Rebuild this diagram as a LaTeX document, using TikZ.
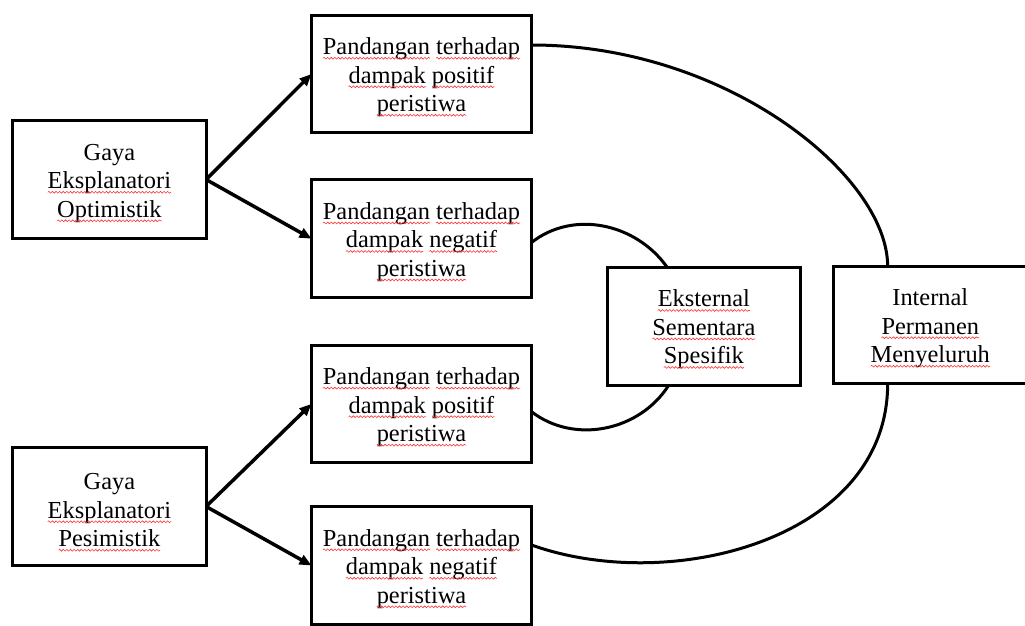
\documentclass[tikz,border=0pt]{standalone}
\usepackage{fontspec}
\setmainfont{Liberation Serif}
\usetikzlibrary{arrows.meta,decorations.pathmorphing}
\newcommand\sq[1]{\tikz[baseline=0pt,x=1pt,y=1pt]{%
  \node[draw=none,fill=none,inner sep=0pt,outer sep=0pt,minimum width=0pt,minimum height=0pt,anchor=base] (sqw) at (0,0) {#1};%
  \draw[overlay,red!80,line width=0.6pt,decorate,decoration={snake,amplitude=0.9pt,segment length=3.6pt}]
    ([yshift=-3.6pt]sqw.base west) -- ([yshift=-3.6pt]sqw.base east);}}
\newcommand\fstrut{\rule{0pt}{23.5pt}}
\begin{document}
\begin{tikzpicture}[x=1pt,y=-1pt,
  box/.style={draw, line width=3pt, outer sep=0pt, inner sep=0pt, align=center,
    font=\fontsize{24.4}{28.5}\selectfont, minimum height=117.6pt},
  sidebox/.style={box, minimum width=193.3pt},
  midbox/.style={box, minimum width=220pt},
  arr/.style={line width=3.5pt, -{Triangle[length=12pt,width=10pt]}},
  link/.style={line width=3pt}]
\useasboundingbox (0,0) rectangle (1025,625);
\clip (0,0) rectangle (1025,625);

\node[sidebox] (L1) at (109.4,179.5) {\fstrut Gaya\\\sq{Eksplanatori}\\\sq{Optimistik}};
\node[sidebox] (L2) at (109.4,506.5) {\fstrut Gaya\\\sq{Eksplanatori}\\\sq{Pesimistik}};

\node[midbox] (A) at (421.5,74) {\fstrut\sq{Pandangan} \sq{terhadap}\\\sq{dampak} \sq{positif}\\\sq{peristiwa}};
\node[midbox] (B) at (421.5,238.7) {\fstrut\sq{Pandangan} \sq{terhadap}\\\sq{dampak} \sq{negatif}\\\sq{peristiwa}};
\node[midbox] (C) at (421.5,403.9) {\fstrut\sq{Pandangan} \sq{terhadap}\\\sq{dampak} \sq{positif}\\\sq{peristiwa}};
\node[midbox] (D) at (421.5,565.5) {\fstrut\sq{Pandangan} \sq{terhadap}\\\sq{dampak} \sq{negatif}\\\sq{peristiwa}};

\node[sidebox] (E) at (703.9,326.2) {\fstrut\sq{Eksternal}\\\sq{Sementara}\\\sq{Spesifik}};
\node[sidebox] (I) at (930.3,325) {\fstrut Internal\\\sq{Permanen}\\\sq{Menyeluruh}};

\draw[arr] (L1.east) -- (A.west);
\draw[arr] (L1.east) -- (B.west);
\draw[arr] (L2.east) -- (C.west);
\draw[arr] (L2.east) -- (D.west);

\draw[link] ([yshift=29pt]A.east) .. controls +(196,0) and +(0,-90) .. ([xshift=54pt]I.north west);
\draw[link] ([xshift=54pt]I.south west) .. controls +(0,155) and +(140,50) .. ([yshift=20.5pt]D.east);
\draw[link] ([yshift=-3.8pt]B.east) .. controls +(42,-33) and +(-31,-44) .. ([xshift=60pt]E.north west);
\draw[link] ([xshift=61.6pt]E.south west) .. controls +(-29,46) and +(43,33) .. ([yshift=-7.8pt]C.east);
\end{tikzpicture}
\end{document}
